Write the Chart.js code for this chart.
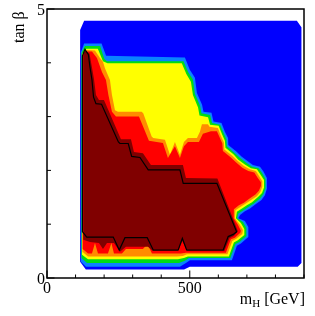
<!DOCTYPE html>
<html>
<head>
<meta charset="utf-8">
<script src="https://cdn.jsdelivr.net/npm/chart.js@4.4.0/dist/chart.umd.min.js"></script>
<style>
  html, body { margin: 0; padding: 0; background: #fff; }
  canvas { display: block; }
</style>
</head>
<body>
<canvas id="chart" width="315" height="316"></canvas>
<script>
// contour bands, outermost first; vertices are [mH (GeV), tan beta]
const blueBand = [[130,4.78],[875,4.78],[891,4.66],[891,0.28],[878,0.21],[500,0.21],[480,0.16],[136,0.16],[116,0.30],[116,4.61]];

const lightBlueBand = [[119,4.20],[130,4.36],[191,4.36],[207,4.13],[483,4.10],[500,3.87],[518,3.72],[525,3.44],[543,3.22],[548,3.09],[576,3.07],[583,2.91],[611,2.88],[623,2.72],[634,2.60],[635,2.47],[663,2.35],[681,2.26],[703,2.17],[721,2.10],[746,2.07],[758,1.98],[770,1.86],[770,1.66],[763,1.54],[751,1.45],[728,1.36],[711,1.29],[693,1.24],[676,1.17],[670,1.11],[693,1.06],[705,0.95],[705,0.76],[679,0.64],[665,0.60],[647.5,0.33],[500.5,0.33],[486.5,0.28],[465.5,0.21],[136.5,0.21],[119,0.30]];

const greenBand = [[121,4.18],[133,4.31],[186,4.31],[201,4.07],[210,4.03],[478,4.03],[494,3.83],[511,3.69],[518,3.42],[536,3.20],[541,3.06],[571,3.03],[578,2.88],[606,2.85],[618,2.70],[628,2.58],[630,2.45],[658,2.32],[676,2.23],[698,2.14],[718,2.07],[741,2.04],[753,1.95],[765,1.84],[765,1.67],[758,1.56],[746,1.48],[723,1.38],[705,1.32],[688,1.26],[670,1.20],[666,1.11],[686,1.04],[698,0.93],[698,0.78],[674,0.67],[660,0.63],[642,0.37],[497,0.37],[483,0.32],[462,0.28],[140,0.28],[121,0.37]];

const yellowBand = [[122.5,4.16],[138,4.26],[178,4.26],[196,4.03],[212,3.99],[472,3.99],[488,3.79],[504,3.65],[511,3.40],[529,3.17],[534,3.02],[564,2.99],[571,2.85],[601,2.83],[613,2.67],[623,2.55],[625,2.42],[653,2.30],[670,2.20],[693,2.11],[714,2.04],[735,2.02],[748,1.92],[760,1.82],[760,1.68],[753,1.58],[740,1.51],[718,1.41],[700,1.35],[683,1.29],[665,1.23],[661.5,1.11],[679,1.02],[691,0.91],[691,0.80],[668.5,0.70],[654.5,0.66],[637,0.40],[493.5,0.40],[479.5,0.37],[458.5,0.35],[143.5,0.35],[122.5,0.43]];

const orangeBand = [[124,4.15],[140,4.24],[168,4.23],[185.5,4.09],[196,4.02],[203,3.90],[220.5,3.68],[227.5,3.40],[238,3.12],[248.5,3.09],[331.5,3.09],[337,3.06],[366.5,2.63],[372,2.60],[413,2.57],[430.5,2.29],[448,2.53],[465.5,2.29],[479.5,2.53],[493.5,2.60],[525,2.60],[535.5,2.72],[542.5,2.86],[563.5,2.86],[569,2.81],[598.5,2.79],[609,2.64],[619.5,2.52],[621,2.39],[649,2.27],[667,2.18],[689.5,2.08],[710.5,2.02],[731.5,1.99],[742,1.90],[754,1.80],[754,1.70],[747,1.60],[735,1.52],[712,1.44],[695,1.38],[677,1.32],[660,1.26],[658,1.11],[674,1.00],[686,0.89],[684,0.82],[663,0.73],[649,0.69],[632,0.44],[490,0.44],[476,0.41],[455,0.40],[143.5,0.40],[126,0.48]];

const redBand = [[125,4.13],[138,4.21],[157.5,4.21],[175,4.09],[192.5,3.83],[206.5,3.68],[215,3.40],[227.5,3.09],[241.5,3.00],[322,3.00],[357,2.55],[406,2.51],[423.5,2.23],[448,2.45],[465.5,2.23],[479.5,2.45],[493.5,2.53],[532,2.53],[546,2.68],[574,2.73],[595,2.73],[604,2.62],[614,2.50],[616,2.36],[644,2.24],[661.5,2.15],[684,2.05],[705,1.99],[726,1.96],[737,1.87],[749,1.78],[749,1.71],[742,1.62],[730,1.55],[707,1.47],[689.5,1.40],[672,1.35],[654.5,1.28],[654,1.11],[668.5,0.99],[679,0.88],[677,0.84],[658,0.75],[644,0.72],[626.5,0.47],[486.5,0.47],[469,0.455],[367.5,0.455],[352,0.63],[336,0.54],[276.5,0.54],[262.5,0.455],[234.5,0.455],[225.5,0.65],[213.5,0.455],[178.5,0.455],[168,0.65],[157.5,0.455],[143.5,0.455],[125,0.54]];

const darkRedBand = [[127,4.16],[133,4.24],[149,4.17],[156,3.96],[164.5,3.70],[171.5,3.40],[182,3.31],[199.5,3.31],[259,2.58],[294,2.58],[304.5,2.34],[336,2.32],[364,2.10],[476,2.10],[486.5,1.86],[596.75,1.85],[668.5,0.87],[654.5,0.78],[639,0.74],[621,0.50],[490,0.50],[474,0.69],[458.5,0.50],[371,0.50],[353.5,0.58],[276.5,0.58],[255.5,0.49],[234.5,0.65],[210,0.65],[196,0.54],[182,0.65],[150.5,0.67],[127,0.71]];

// black contour line
const contourLine = [[124,0.86],[124,4.13],[133,4.25],[145,4.15],[150.5,3.92],[157.5,3.68],[163,3.36],[171.5,3.24],[191,3.23],[250,2.53],[255.5,2.50],[284.5,2.50],[296.5,2.26],[325.5,2.24],[354.5,2.01],[465.5,2.01],[477,1.76],[595,1.76],[664,0.86],[652,0.81],[634.5,0.77],[617,0.52],[489,0.52],[474,0.74],[459.5,0.52],[372,0.52],[351,0.75],[273,0.75],[253,0.52],[232,0.76],[139,0.76]];

const xTicks = [0, 100, 200, 300, 400, 500, 600, 700, 800, 900];
const xLabelValues = [0, 500];
const yTicks = [0, 1, 2, 3, 4, 5];
const yLabelValues = [0, 5];

const serif = '"Liberation Serif", "DejaVu Serif", serif';

const closed = (poly) => poly.concat([poly[0]]).map(([x, y]) => ({ x, y }));

function band(poly, color) {
  return {
    data: closed(poly),
    showLine: true,
    fill: 'shape',
    backgroundColor: color,
    borderColor: 'rgba(0,0,0,0)',
    borderWidth: 1,
    pointRadius: 0,
    tension: 0,
  };
}

// frame, inside ticks, labels and axis titles
const framePlugin = {
  id: 'frame',
  afterDraw(chart) {
    const { ctx, chartArea: a, scales: { x, y } } = chart;
    ctx.save();
    ctx.strokeStyle = '#000';
    ctx.lineWidth = 1;
    xTicks.forEach((v) => {
      const px = x.getPixelForValue(v);
      const len = xLabelValues.includes(v) ? 7.5 : 3.5;
      ctx.beginPath();
      ctx.moveTo(px, a.bottom);
      ctx.lineTo(px, a.bottom - len);
      ctx.stroke();
    });
    yTicks.forEach((v) => {
      const py = y.getPixelForValue(v);
      const len = yLabelValues.includes(v) ? 7.5 : 4;
      ctx.beginPath();
      ctx.moveTo(a.left, py);
      ctx.lineTo(a.left + len, py);
      ctx.stroke();
    });
    ctx.lineWidth = 1.5;
    ctx.strokeRect(a.left, a.top, a.right - a.left, a.bottom - a.top);

    ctx.fillStyle = '#000';
    ctx.font = '16px ' + serif;
    ctx.textBaseline = 'alphabetic';
    ctx.textAlign = 'center';
    xLabelValues.forEach((v) => ctx.fillText(String(v), x.getPixelForValue(v), a.bottom + 15));
    ctx.textAlign = 'right';
    yLabelValues.forEach((v) => ctx.fillText(String(v), a.left - 2, y.getPixelForValue(v) + 5.5));

    // x title: m_H [GeV]
    ctx.textAlign = 'left';
    const big = '16px ' + serif;
    const small = '11px ' + serif;
    ctx.font = big;
    const wM = ctx.measureText('m').width;
    const wRest = ctx.measureText(' [GeV]').width;
    ctx.font = small;
    const wH = ctx.measureText('H').width;
    let tx = a.right + 1 - (wM + wH + wRest);
    const ty = 304;
    ctx.font = big;
    ctx.fillText('m', tx, ty);
    tx += wM;
    ctx.font = small;
    ctx.fillText('H', tx, ty + 3);
    tx += wH;
    ctx.font = big;
    ctx.fillText(' [GeV]', tx, ty);

    // y title
    ctx.translate(23.5, 43);
    ctx.rotate(-Math.PI / 2);
    ctx.fillText('tan \u03b2', 0, 0);
    ctx.restore();
  },
};

new Chart(document.getElementById('chart'), {
  type: 'scatter',
  data: {
    datasets: [
      {
        data: closed(contourLine),
        showLine: true,
        fill: false,
        borderColor: '#000',
        borderWidth: 1.2,
        pointRadius: 0,
        tension: 0,
      },
      band(darkRedBand, '#800000'),
      band(redBand, '#ff0000'),
      band(orangeBand, '#ff8c00'),
      band(yellowBand, '#ffff00'),
      band(greenBand, '#00dc14'),
      band(lightBlueBand, '#0a82ff'),
      band(blueBand, '#0000ff'),
    ],
  },
  options: {
    responsive: false,
    animation: false,
    events: [],
    layout: { padding: { left: 47, right: 11, top: 9, bottom: 38 } },
    scales: {
      x: { type: 'linear', min: 0, max: 900, display: false },
      y: { type: 'linear', min: 0, max: 5, display: false },
    },
    plugins: {
      legend: { display: false },
      tooltip: { enabled: false },
    },
  },
  plugins: [framePlugin],
});
</script>
</body>
</html>
